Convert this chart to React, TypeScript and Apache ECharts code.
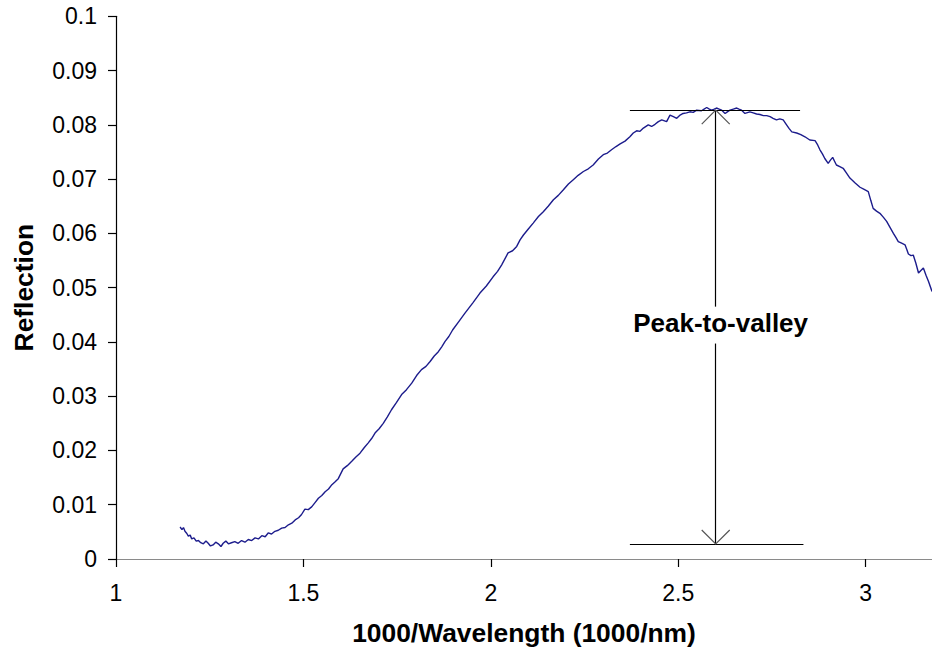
import React, { useEffect, useRef } from "react";
import * as echarts from "echarts";

// 1000/Wavelength (1000/nm)
const xValues = [
  1.171, 1.176, 1.180, 1.184, 1.189, 1.193, 1.198, 1.202, 1.208, 1.214, 1.220, 1.226, 1.233, 1.240, 1.246, 1.252,
  1.259, 1.266, 1.273, 1.280, 1.286, 1.293, 1.300, 1.308, 1.317, 1.326, 1.335, 1.344, 1.353, 1.362, 1.371,
  1.380, 1.389, 1.398, 1.406, 1.415, 1.424, 1.433, 1.442, 1.451, 1.460, 1.469, 1.478, 1.487, 1.495, 1.504,
  1.513, 1.522, 1.531, 1.540, 1.549, 1.558, 1.567, 1.576, 1.584, 1.593, 1.606, 1.617, 1.629, 1.640, 1.651,
  1.662, 1.673, 1.682, 1.691, 1.702, 1.713, 1.724, 1.735, 1.748, 1.762, 1.775, 1.789, 1.802, 1.815, 1.827,
  1.838, 1.849, 1.860, 1.869, 1.878, 1.888, 1.898, 1.914, 1.930, 1.952, 1.971, 1.988, 2.006, 2.018, 2.029,
  2.046, 2.058, 2.069, 2.078, 2.087, 2.100, 2.113, 2.127, 2.140, 2.153, 2.167, 2.180, 2.193, 2.207, 2.220,
  2.233, 2.247, 2.260, 2.273, 2.287, 2.300, 2.311, 2.322, 2.334, 2.345, 2.358, 2.371, 2.380, 2.389, 2.398,
  2.407, 2.420, 2.429, 2.438, 2.447, 2.456, 2.469, 2.478, 2.487, 2.496, 2.505, 2.513, 2.522, 2.531, 2.540,
  2.549, 2.562, 2.569, 2.576, 2.583, 2.589, 2.596, 2.602, 2.609, 2.616, 2.625, 2.631, 2.638, 2.647, 2.656,
  2.662, 2.669, 2.678, 2.691, 2.700, 2.709, 2.718, 2.727, 2.736, 2.745, 2.753, 2.762, 2.771, 2.780, 2.789,
  2.796, 2.803, 2.816, 2.827, 2.838, 2.851, 2.865, 2.872, 2.878, 2.885, 2.891, 2.900, 2.906, 2.912, 2.917,
  2.922, 2.931, 2.940, 2.949, 2.958, 2.972, 2.985, 2.996, 3.007, 3.014, 3.020, 3.029, 3.038, 3.047, 3.056,
  3.065, 3.074, 3.081, 3.087, 3.096, 3.105, 3.110, 3.114, 3.121, 3.127, 3.134, 3.141, 3.148, 3.154, 3.161,
  3.168, 3.177,
];

// Reflection
const reflection = [
  0.0059, 0.0054, 0.0058, 0.0051, 0.0047, 0.0042, 0.0044, 0.0037, 0.0039, 0.0033, 0.0034, 0.0030, 0.0028, 0.0033, 0.0029, 0.0024,
  0.0026, 0.0031, 0.0028, 0.0023, 0.0029, 0.0033, 0.0028, 0.0030, 0.0032, 0.0029, 0.0034, 0.0031, 0.0036, 0.0034, 0.0039,
  0.0037, 0.0043, 0.0041, 0.0048, 0.0046, 0.0051, 0.0053, 0.0057, 0.0058, 0.0063, 0.0066, 0.0072, 0.0076, 0.0082, 0.0092,
  0.0091, 0.0096, 0.0104, 0.0112, 0.0117, 0.0124, 0.0129, 0.0137, 0.0142, 0.0148, 0.0166, 0.0172, 0.0180, 0.0188, 0.0195,
  0.0205, 0.0214, 0.0222, 0.0232, 0.0240, 0.0250, 0.0262, 0.0275, 0.0288, 0.0303, 0.0312, 0.0324, 0.0338, 0.0349, 0.0355,
  0.0364, 0.0374, 0.0382, 0.0391, 0.0401, 0.0410, 0.0422, 0.0437, 0.0452, 0.0472, 0.0490, 0.0503, 0.0520, 0.0530, 0.0542,
  0.0564, 0.0568, 0.0576, 0.0588, 0.0597, 0.0608, 0.0619, 0.0631, 0.0640, 0.0650, 0.0662, 0.0670, 0.0680, 0.0691, 0.0699,
  0.0707, 0.0714, 0.0719, 0.0726, 0.0737, 0.0745, 0.0748, 0.0754, 0.0760, 0.0765, 0.0770, 0.0778, 0.0785, 0.0789, 0.0788,
  0.0794, 0.0800, 0.0797, 0.0801, 0.0806, 0.0809, 0.0806, 0.0818, 0.0815, 0.0812, 0.0818, 0.0821, 0.0822, 0.0824, 0.0823,
  0.0827, 0.0826, 0.0829, 0.0832, 0.0829, 0.0827, 0.0829, 0.0831, 0.0829, 0.0827, 0.0821, 0.0824, 0.0827, 0.0829, 0.0831,
  0.0829, 0.0827, 0.0821, 0.0824, 0.0822, 0.0820, 0.0819, 0.0817, 0.0817, 0.0815, 0.0812, 0.0809, 0.0811, 0.0809, 0.0800,
  0.0793, 0.0787, 0.0785, 0.0782, 0.0778, 0.0772, 0.0771, 0.0763, 0.0754, 0.0746, 0.0738, 0.0729, 0.0735, 0.0740, 0.0733,
  0.0726, 0.0723, 0.0720, 0.0711, 0.0702, 0.0693, 0.0685, 0.0681, 0.0677, 0.0660, 0.0646, 0.0641, 0.0637, 0.0630, 0.0622,
  0.0611, 0.0600, 0.0592, 0.0585, 0.0582, 0.0579, 0.0570, 0.0562, 0.0559, 0.0560, 0.0545, 0.0527, 0.0532, 0.0536, 0.0523,
  0.0511, 0.0493,
];

// Annotation values
const peakX = 2.6;
const peakValue = 0.0827;
const valleyValue = 0.00276;
const peakLineX = [2.371, 2.825];
const valleyLineX = [2.371, 2.834];
const labelGap = [0.0397, 0.0465];
const labelPos = [2.613, 0.0435];
const labelText = "Peak-to-valley";

const xTitle = "1000/Wavelength (1000/nm)";
const yTitle = "Reflection";

const FONT = "'Liberation Sans', Arial, sans-serif";

export default function App() {
  const ref = useRef<HTMLDivElement>(null);

  useEffect(() => {
    if (!ref.current) return;
    const chart = echarts.init(ref.current, null, { renderer: "svg" });
    const data = xValues.map((x, i) => [x, reflection[i]]);
    const xMin = 1;
    const xMax = 3.177;
    chart.setOption({
      animation: false,
      backgroundColor: "#fff",
      grid: { left: 116, right: 0, top: 16.3, bottom: 91.7, containLabel: false },
      xAxis: [
        {
          type: "value",
          min: xMin,
          max: xMax,
          interval: 0.5,
          name: xTitle,
          nameLocation: "middle",
          nameGap: 61,
          nameTextStyle: { fontFamily: FONT, fontSize: 26.4, fontWeight: "bold", color: "#000" },
          axisLine: { show: true, onZero: false, lineStyle: { color: "#000", width: 1.2 } },
          axisTick: { show: true, length: 8, lineStyle: { color: "#000", width: 1.2 } },
          axisLabel: { fontFamily: FONT, fontSize: 23, color: "#000", margin: 22, showMaxLabel: false },
          splitLine: { show: false },
        },
        {
          type: "value",
          position: "top",
          min: xMin,
          max: xMax,
          axisLine: { show: true, lineStyle: { color: "#8a8a8a", width: 1 } },
          axisTick: { show: false },
          axisLabel: { show: false },
          splitLine: { show: false },
        },
      ],
      yAxis: {
        type: "value",
        min: 0,
        max: 0.1,
        interval: 0.01,
        name: yTitle,
        nameLocation: "middle",
        nameGap: 79,
        nameRotate: 90,
        nameTextStyle: { fontFamily: FONT, fontSize: 26.4, fontWeight: "bold", color: "#000" },
        axisLine: { show: true, lineStyle: { color: "#000", width: 1.2 } },
        axisTick: { show: true, length: 8, lineStyle: { color: "#000", width: 1.2 } },
        axisLabel: { fontFamily: FONT, fontSize: 23, color: "#000", margin: 19 },
        splitLine: { show: false },
      },
      series: [
        {
          type: "line",
          data,
          showSymbol: false,
          symbol: "none",
          lineStyle: { color: "#1c1c8c", width: 1.4 },
          z: 3,
          markLine: {
            silent: true,
            symbol: ["none", "none"],
            label: { show: false },
            lineStyle: { color: "#000", type: "solid", width: 1.2 },
            data: [
              [{ coord: [peakLineX[0], peakValue] }, { coord: [peakLineX[1], peakValue] }],
              [{ coord: [valleyLineX[0], valleyValue] }, { coord: [valleyLineX[1], valleyValue] }],
              [{ coord: [peakX, peakValue] }, { coord: [peakX, labelGap[1]] }],
              [{ coord: [peakX, labelGap[0]] }, { coord: [peakX, valleyValue] }],
            ],
          },
        },
      ],
    });

    const p = (x: number, y: number) => chart.convertToPixel({ seriesIndex: 0 }, [x, y]) as number[];
    const top = p(peakX, peakValue);
    const bot = p(peakX, valleyValue);
    const lbl = p(labelPos[0], labelPos[1]);
    const a = 14;
    chart.setOption({
      graphic: [
        {
          type: "polyline",
          silent: true,
          z: 10,
          shape: { points: [[top[0] - a, top[1] + a], [top[0], top[1]], [top[0] + a, top[1] + a]] },
          style: { stroke: "#555", lineWidth: 1.2, fill: "none" },
        },
        {
          type: "polyline",
          silent: true,
          z: 10,
          shape: { points: [[bot[0] - a, bot[1] - a], [bot[0], bot[1]], [bot[0] + a, bot[1] - a]] },
          style: { stroke: "#555", lineWidth: 1.2, fill: "none" },
        },
        {
          type: "text",
          silent: true,
          z: 10,
          x: lbl[0],
          y: lbl[1],
          style: {
            text: labelText,
            fontFamily: FONT,
            fontSize: 26,
            fontWeight: "bold",
            fill: "#000",
            align: "center",
            verticalAlign: "middle",
          },
        },
      ],
    });

    return () => chart.dispose();
  }, []);

  return (
    <div
      ref={ref}
      style={{ position: "absolute", left: 0, top: 0, width: 932, height: 651, background: "#fff" }}
    />
  );
}
